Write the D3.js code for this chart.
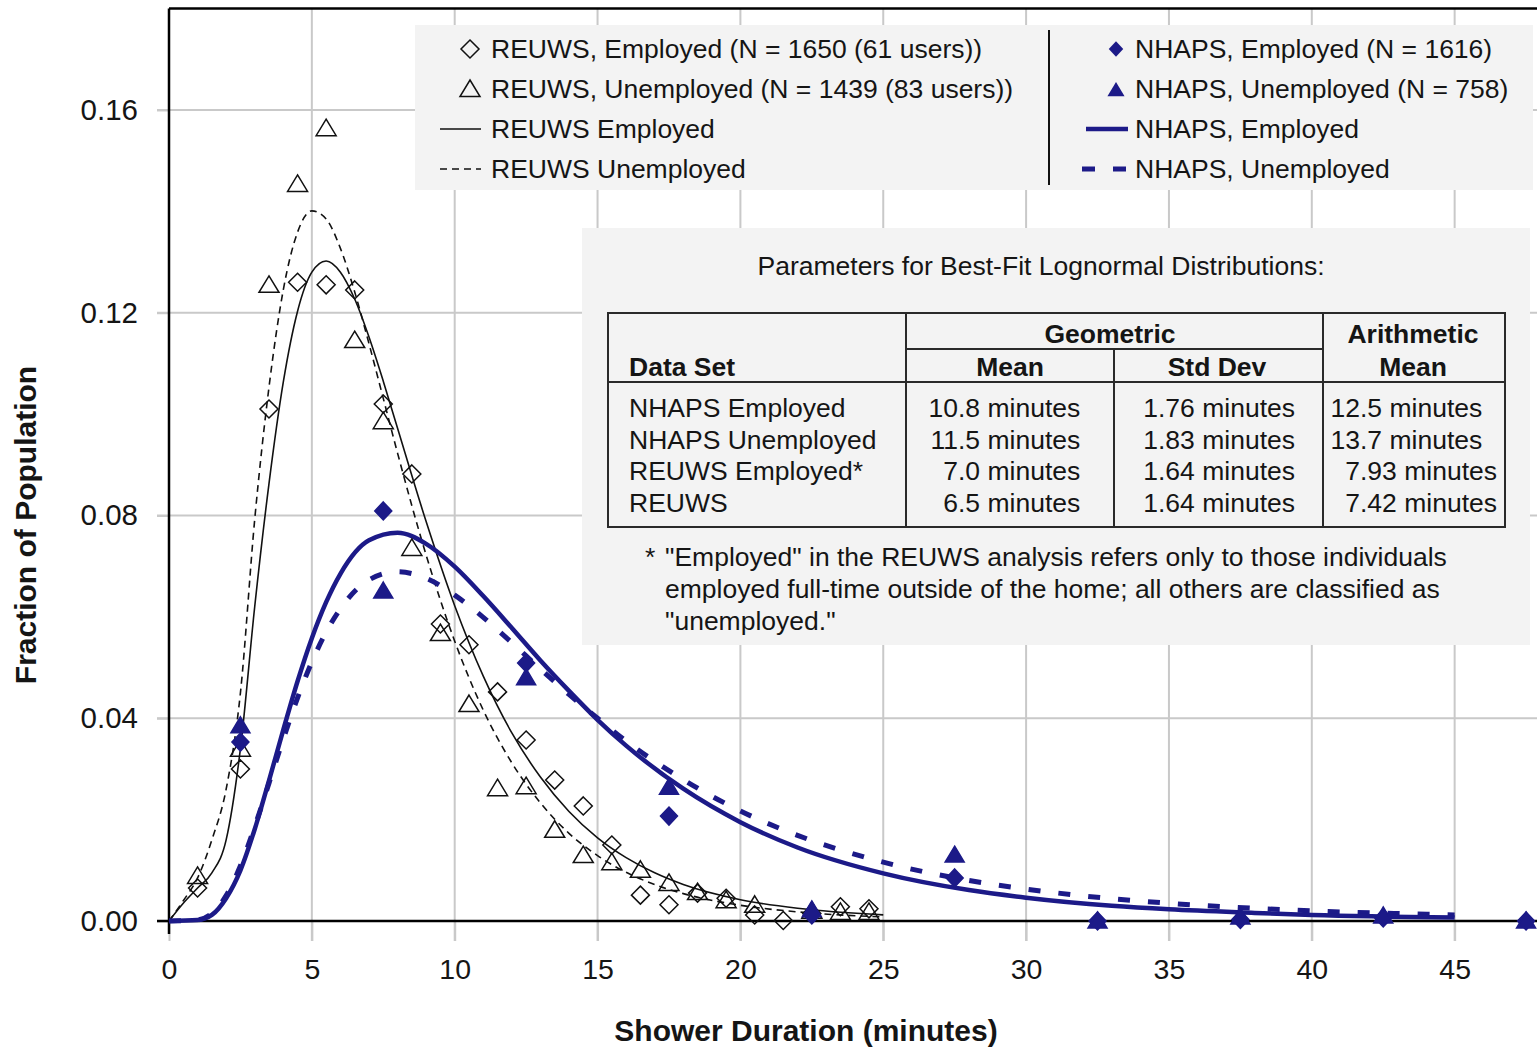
<!DOCTYPE html>
<html><head><meta charset="utf-8">
<script src="https://cdn.jsdelivr.net/npm/d3@7"></script>
<style>
body{margin:0;background:#fff}
text{font-family:Arial,"Liberation Sans",Helvetica,sans-serif;fill:#151515}
</style>
</head><body>
<svg id="c" width="1537" height="1047"></svg>
<script>
// ---------- data ----------
const xTicks = [0,5,10,15,20,25,30,35,40,45];
const yTicks = [0,0.04,0.08,0.12,0.16];

// observed REUWS bins (minutes)
const reuwsX = [1,2.5,3.5,4.5,5.5,6.5,7.5,8.5,9.5,10.5,11.5,12.5,13.5,14.5,15.5,16.5,17.5,18.5,19.5,20.5,21.5,22.5,23.5,24.5];
const reuwsEmployed = [0.0065,0.030,0.101,0.126,0.1255,0.1245,0.102,0.0882,0.0586,0.0545,0.0452,0.0357,0.0278,0.0227,0.015,0.0051,0.0032,0.0055,0.0045,0.0012,0.0001,0.0015,0.0028,0.0024];
const reuwsUnemployed = [0.0089,0.034,0.1255,0.1454,0.1564,0.1146,0.0986,0.0736,0.0568,0.0428,0.0262,0.0266,0.018,0.013,0.0116,0.0101,0.0075,0.0057,0.0041,0.0032,null,0.0020,0.0018,0.0018];

// observed NHAPS bins
const nhapsX = [2.5,7.5,12.5,17.5,22.5,27.5,32.5,37.5,42.5,47.5];
const nhapsEmployed = [0.0353,0.0809,0.0509,0.0207,0.0012,0.0085,0.0,0.0003,0.0006,0.0];
const nhapsUnemployed = [0.0385,0.0651,0.048,0.0264,0.0022,0.013,0.0,0.0008,0.0010,0.0];

// fitted curves
const reuwsFitX = [0,0.5,1,1.5,2,2.5,3,3.5,4,4.5,5,5.5,6,6.5,7,7.5,8,9,10,11,12,13,14,15,16,17,18,20,22,25];
const reuwsEmpFit = [0,0.0035,0.0065,0.0095,0.016,0.034,0.062,0.0863,0.1063,0.1203,0.128,0.1302,0.128,0.1227,0.1152,0.1065,0.0972,0.0788,0.0622,0.0483,0.0371,0.0284,0.0216,0.0164,0.0125,0.0095,0.0072,0.0042,0.0025,0.0012];
const reuwsUnempFit = [0,0.004,0.0085,0.016,0.026,0.045,0.0792,0.1053,0.1245,0.1359,0.1401,0.1385,0.1327,0.1241,0.1139,0.1031,0.0923,0.0722,0.0552,0.0416,0.0312,0.0233,0.0173,0.0129,0.0096,0.0072,0.0054,0.0031,0.0018,0.0008];
const nhapsFitX = [0,1,1.5,2,2.5,3,3.5,4,4.5,5,5.5,6,7,8,9,10,11,12,13,14,15,16,18,20,22,25,28,30,33,35,38,40,45];
const nhapsEmpFit = [0,0.0002,0.0012,0.0045,0.0100,0.0181,0.0277,0.0377,0.0473,0.0558,0.0629,0.0685,0.0751,0.0766,0.0744,0.0699,0.0641,0.0578,0.0514,0.0454,0.0397,0.0346,0.0261,0.0195,0.0145,0.0094,0.0061,0.0046,0.003,0.0023,0.0016,0.0012,0.0007];
const nhapsUnempFit = [0,0.0002,0.0015,0.0050,0.0109,0.0186,0.0272,0.0359,0.044,0.0511,0.057,0.0616,0.0673,0.0689,0.0676,0.0643,0.0599,0.0549,0.0497,0.0447,0.04,0.0355,0.0279,0.0217,0.0169,0.0116,0.008,0.0063,0.0044,0.0035,0.0025,0.002,0.0012];

// legend & table text
const legendLeft = ['REUWS, Employed (N = 1650 (61 users))','REUWS, Unemployed (N = 1439 (83 users))','REUWS Employed','REUWS Unemployed'];
const legendRight = ['NHAPS, Employed (N = 1616)','NHAPS, Unemployed (N = 758)','NHAPS, Employed','NHAPS, Unemployed'];
const tableTitle = 'Parameters for Best-Fit Lognormal Distributions:';
const tableSets = ['NHAPS Employed','NHAPS Unemployed','REUWS Employed*','REUWS'];
const geoMean = ['10.8','11.5','7.0','6.5'];
const geoStd = ['1.76','1.83','1.64','1.64'];
const arithMean = ['12.5','13.7','7.93','7.42'];
const footnote = ['"Employed" in the REUWS analysis refers only to those individuals','employed full-time outside of the home; all others are classified as','"unemployed."'];

// ---------- drawing ----------
const NAVY = '#1c1a88';
const svg = d3.select('#c');
const x = d3.scaleLinear().domain([0,48]).range([169,169+48*28.57]);
const y = d3.scaleLinear().domain([0,0.18]).range([921,921-0.18*5069]);
const W = 1537;

// gridlines
const grid = svg.append('g');
grid.selectAll('line.v').data(xTicks.filter(d=>d>0)).join('line')
  .attr('x1',d=>x(d)).attr('x2',d=>x(d)).attr('y1',y(0.18)).attr('y2',y(0)+20)
  .attr('stroke','#c9c9c9').attr('stroke-width',2);
grid.selectAll('line.h').data(yTicks.filter(d=>d>0)).join('line')
  .attr('x1',x(0)-12).attr('x2',W).attr('y1',d=>y(d)).attr('y2',d=>y(d))
  .attr('stroke','#c9c9c9').attr('stroke-width',2);

// axes labels via d3 axes
const ya = svg.append('g').attr('transform',`translate(${x(0)},0)`)
  .call(d3.axisLeft(y).tickValues(yTicks).tickFormat(d3.format('.2f')).tickSize(12).tickPadding(19));
ya.select('.domain').remove();
ya.selectAll('line').attr('stroke','#c9c9c9').attr('stroke-width',2);
ya.selectAll('text').style('font-size','29.5px').style('font-family','Arial, "Liberation Sans", sans-serif').attr('fill','#151515');

const xa = svg.append('g').attr('transform',`translate(0,${y(0)})`)
  .call(d3.axisBottom(x).tickValues(xTicks).tickFormat(d3.format('d')).tickSize(20).tickPadding(18));
xa.select('.domain').remove();
xa.selectAll('line').attr('stroke','#c9c9c9').attr('stroke-width',2);
xa.selectAll('text').style('font-size','28.5px').style('font-family','Arial, "Liberation Sans", sans-serif').attr('fill','#151515');

// frame
svg.append('line').attr('x1',x(0)).attr('x2',x(0)).attr('y1',y(0.18)).attr('y2',y(0)+13).attr('stroke','#000').attr('stroke-width',2.5);
svg.append('line').attr('x1',x(0)-12).attr('x2',W).attr('y1',y(0)).attr('y2',y(0)).attr('stroke','#000').attr('stroke-width',2.5);
svg.append('line').attr('x1',x(0)).attr('x2',W).attr('y1',y(0.18)).attr('y2',y(0.18)).attr('stroke','#000').attr('stroke-width',2.5);

// axis titles
svg.append('text').attr('x',806).attr('y',1030).attr('dy','0.35em').attr('text-anchor','middle')
  .style('font-size','30px').style('font-weight','bold').text('Shower Duration (minutes)');
svg.append('text').attr('transform','translate(25,525) rotate(-90)').attr('dy','0.35em').attr('text-anchor','middle')
  .style('font-size','30px').style('font-weight','bold').text('Fraction of Population');

// legend box
svg.append('rect').attr('x',415).attr('y',25).attr('width',1118).attr('height',165).attr('fill','#f3f3f3');
svg.append('line').attr('x1',1049).attr('x2',1049).attr('y1',30).attr('y2',185).attr('stroke','#111').attr('stroke-width',2);

// table box
svg.append('rect').attr('x',582).attr('y',228).attr('width',948).attr('height',417).attr('fill','#f3f3f3');

// curves
const line = d3.line().x(d=>x(d[0])).y(d=>y(d[1])).curve(d3.curveMonotoneX);
const curves = svg.append('g').attr('fill','none');
curves.append('path').datum(reuwsFitX.map((v,i)=>[v,reuwsUnempFit[i]])).attr('d',line)
  .attr('stroke','#111').attr('stroke-width',1.6).attr('stroke-dasharray','7,5');
curves.append('path').datum(reuwsFitX.map((v,i)=>[v,reuwsEmpFit[i]])).attr('d',line)
  .attr('stroke','#111').attr('stroke-width',1.6);
curves.append('path').datum(nhapsFitX.map((v,i)=>[v,nhapsUnempFit[i]])).attr('d',line)
  .attr('stroke',NAVY).attr('stroke-width',5).attr('stroke-dasharray','12,18');
curves.append('path').datum(nhapsFitX.map((v,i)=>[v,nhapsEmpFit[i]])).attr('d',line)
  .attr('stroke',NAVY).attr('stroke-width',4.5);

// marker shapes
const DIAMOND = 'M0,-9L9,0L0,9L-9,0Z';
const TRIANGLE = 'M0,-9L10,7.5L-10,7.5Z';
const FDIAMOND = 'M0,-9L8.5,0L0,9L-8.5,0Z';
const FTRIANGLE = 'M0,-9L9.5,7L-9.5,7Z';

function markers(xs, ys, shape, fill, stroke){
  const data = xs.map((v,i)=>[v,ys[i]]).filter(d=>d[1]!==null);
  svg.append('g').selectAll('path').data(data).join('path')
    .attr('transform',d=>`translate(${x(d[0])},${y(d[1])})`)
    .attr('d',shape).attr('fill',fill).attr('stroke',stroke).attr('stroke-width',1.5);
}
markers(reuwsX, reuwsEmployed, DIAMOND, 'none', '#111');
markers(reuwsX, reuwsUnemployed, TRIANGLE, 'none', '#111');
markers(nhapsX, nhapsEmployed, FDIAMOND, NAVY, NAVY);
markers(nhapsX, nhapsUnemployed, FTRIANGLE, NAVY, NAVY);

// legend entries
const lg = svg.append('g').style('font-size','26.5px');
legendLeft.forEach((t,i)=>{
  const cy = 49 + i*40;
  lg.append('text').attr('x',491).attr('y',cy).attr('dy','0.35em').text(t);
});
legendRight.forEach((t,i)=>{
  const cy = 49 + i*40;
  lg.append('text').attr('x',1135).attr('y',cy).attr('dy','0.35em').text(t);
});
lg.append('path').attr('transform','translate(470,49)').attr('d',DIAMOND).attr('fill','none').attr('stroke','#111').attr('stroke-width',1.5);
lg.append('path').attr('transform','translate(470,89)').attr('d',TRIANGLE).attr('fill','none').attr('stroke','#111').attr('stroke-width',1.5);
lg.append('line').attr('x1',440).attr('x2',481).attr('y1',129).attr('y2',129).attr('stroke','#111').attr('stroke-width',1.6);
lg.append('line').attr('x1',440).attr('x2',481).attr('y1',169).attr('y2',169).attr('stroke','#111').attr('stroke-width',1.6).attr('stroke-dasharray','7,5');
lg.append('path').attr('transform','translate(1116,49) scale(0.85)').attr('d',FDIAMOND).attr('fill',NAVY);
lg.append('path').attr('transform','translate(1116,90) scale(0.9)').attr('d',FTRIANGLE).attr('fill',NAVY);
lg.append('line').attr('x1',1086).attr('x2',1128).attr('y1',129).attr('y2',129).attr('stroke',NAVY).attr('stroke-width',4.5);
lg.append('line').attr('x1',1082).attr('x2',1128).attr('y1',169).attr('y2',169).attr('stroke',NAVY).attr('stroke-width',5).attr('stroke-dasharray','13,18');

// table
const tb = svg.append('g').style('font-size','26.5px');
tb.append('text').attr('x',1041).attr('y',266).attr('dy','0.35em').attr('text-anchor','middle').text(tableTitle);
const tl = (x1,y1,x2,y2)=>tb.append('line').attr('x1',x1).attr('y1',y1).attr('x2',x2).attr('y2',y2).attr('stroke','#2a2a2a').attr('stroke-width',2);
tb.append('rect').attr('x',608).attr('y',313).attr('width',897).attr('height',214).attr('fill','none').attr('stroke','#2a2a2a').attr('stroke-width',2);
tl(906,313,906,527); tl(1114,349,1114,527); tl(1323,313,1323,527);
tl(906,349,1323,349); tl(608,382,1505,382);
const hb = (t,xx,yy,anchor)=>tb.append('text').attr('x',xx).attr('y',yy).attr('dy','0.35em').attr('text-anchor',anchor).style('font-weight','bold').text(t);
hb('Geometric',1110,334,'middle');
hb('Arithmetic',1413,334,'middle');
hb('Data Set',629,367,'start');
hb('Mean',1010,367,'middle');
hb('Std Dev',1217,367,'middle');
hb('Mean',1413,367,'middle');
const rowY = [408,440,471,503];
function decCol(vals, dx){
  vals.forEach((v,i)=>{
    const k = v.indexOf('.');
    tb.append('text').attr('x',dx).attr('y',rowY[i]).attr('dy','0.35em').attr('text-anchor','end').text(v.slice(0,k));
    tb.append('text').attr('x',dx).attr('y',rowY[i]).attr('dy','0.35em').attr('text-anchor','start').text(v.slice(k)+' minutes');
  });
}
tableSets.forEach((t,i)=>tb.append('text').attr('x',629).attr('y',rowY[i]).attr('dy','0.35em').text(t));
decCol(geoMean,958);
decCol(geoStd,1158);
decCol(arithMean,1360);
tb.append('text').attr('x',645).attr('y',557).attr('dy','0.35em').text('*');
footnote.forEach((t,i)=>tb.append('text').attr('x',665).attr('y',557+i*32).attr('dy','0.35em').text(t));
</script>
</body></html>
